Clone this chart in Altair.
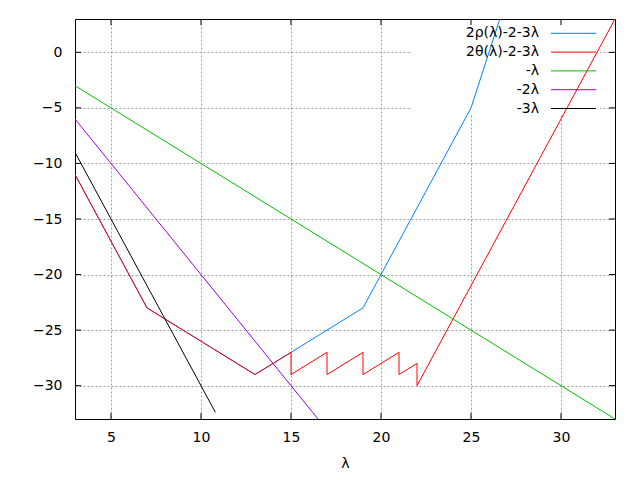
import altair as alt
import pandas as pd

# ---- data ----
blue_x = [3, 7, 13, 15, 19, 25, 26.6]
blue_y = [-11, -23, -29, -27, -23, -5, 3]

red_x = [3, 7, 13, 15, 15, 17, 17, 19, 19, 21, 21, 22, 22, 33]
red_y = [-11, -23, -29, -27, -29, -27, -29, -27, -29, -27, -29, -28, -30, 3]

green_x = [3, 33]
green_y = [-3, -33]

purple_x = [3, 16.5]
purple_y = [-6, -33]

black_x = [3, 10.8]
black_y = [-9, -32.4]

labels = ["2ρ(λ)-2-3λ", "2θ(λ)-2-3λ", "-λ", "-2λ", "-3λ"]
colors = ["#0080ff", "#ff0000", "#00c000", "#a000e0", "#000000"]

x_ticks = [5, 10, 15, 20, 25, 30]
y_ticks = [-30, -25, -20, -15, -10, -5, 0]

W, H = 540, 400
FONT = "DejaVu Sans"
FS = 14

xscale = alt.Scale(domain=[3, 33], nice=False, zero=False)
yscale = alt.Scale(domain=[-33, 3], nice=False, zero=False)

xaxis = alt.Axis(values=x_ticks, title="λ", grid=True, ticks=False, domain=False,
                 labelPadding=11, titlePadding=12, labelFlush=False)
yaxis = alt.Axis(values=y_ticks, title="", grid=True, ticks=False, domain=False,
                 labelPadding=13, labelFlush=False)

series = [(blue_x, blue_y), (red_x, red_y), (green_x, green_y),
          (purple_x, purple_y), (black_x, black_y)]

layers = []

# key area background (grid lines are not drawn under the key)
layers.append(
    alt.Chart(pd.DataFrame({"a": [0]})).mark_rect(color="white").encode(
        x=alt.value(337), x2=alt.value(525), y=alt.value(1), y2=alt.value(95)
    )
)

for (xs, ys), c in zip(series, colors):
    df = pd.DataFrame({"x": xs, "y": ys, "o": list(range(len(xs)))})
    layers.append(
        alt.Chart(df).mark_line(color=c, strokeWidth=1, clip=True).encode(
            x=alt.X("x:Q", scale=xscale, axis=xaxis),
            y=alt.Y("y:Q", scale=yscale, axis=yaxis),
            order="o:Q",
        )
    )

# inward ticks on all four sides
xt = pd.DataFrame({"x": x_ticks})
yt = pd.DataFrame({"y": y_ticks})
for y0, y1 in [(0, 6), (H - 6, H)]:
    layers.append(
        alt.Chart(xt).mark_rule(color="black", strokeWidth=1).encode(
            x=alt.X("x:Q", scale=xscale, axis=xaxis),
            y=alt.value(y0), y2=alt.value(y1),
        )
    )
for x0, x1 in [(0, 6), (W - 6, W)]:
    layers.append(
        alt.Chart(yt).mark_rule(color="black", strokeWidth=1).encode(
            y=alt.Y("y:Q", scale=yscale, axis=yaxis),
            x=alt.value(x0), x2=alt.value(x1),
        )
    )

# key
for i, (lab, c) in enumerate(zip(labels, colors)):
    yp = 14.3 + 18.8 * i
    layers.append(
        alt.Chart(pd.DataFrame({"label": [lab]})).mark_text(
            align="right", baseline="middle", font=FONT, fontSize=FS, color="black"
        ).encode(x=alt.value(464), y=alt.value(yp), text="label:N")
    )
    layers.append(
        alt.Chart(pd.DataFrame({"a": [0]})).mark_rule(color=c, strokeWidth=1).encode(
            x=alt.value(476), x2=alt.value(521), y=alt.value(yp)
        )
    )

chart = alt.layer(*layers).properties(
    width=W, height=H,
    padding={"left": 67, "top": 11, "right": 17, "bottom": 53},
    autosize=alt.AutoSizeParams(type="none"),
    background="white",
).configure_view(
    stroke="black", strokeWidth=1
).configure_axis(
    labelFont=FONT, labelFontSize=FS, labelColor="black",
    titleFont=FONT, titleFontSize=FS, titleColor="black", titleFontWeight="normal",
    gridColor="#a0a0a0", gridDash=[2, 2], gridWidth=1, gridOpacity=1,
)

chart.save("out.html", embed_options={"renderer": "svg", "actions": False})
